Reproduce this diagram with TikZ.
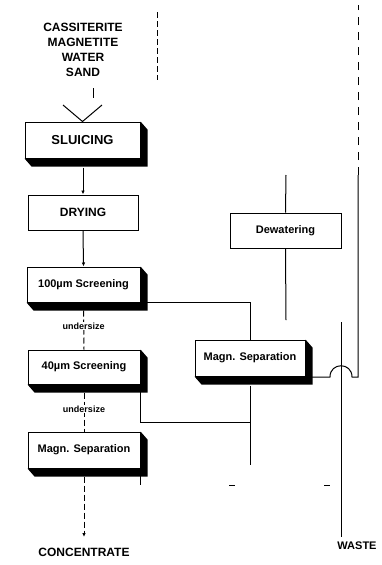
\documentclass[tikz,border=0pt]{standalone}
\usepackage{fontspec}
\setmainfont{Liberation Sans}
\usetikzlibrary{calc,arrows.meta}
\newcommand\myextrude[1]{\fill (#1.north east) -- ++(7,8) -- ($(#1.south east)+(7,8)$) -- ($(#1.south west)+(7,8)$) -- (#1.south west) -- (#1.south east) -- cycle;}
\begin{document}
\begin{tikzpicture}[x=1pt,y=-1pt,
  proc/.style={draw, line width=1pt, inner sep=0pt, fill=white, font=\bfseries\fontsize{11}{13}\selectfont},
  conn/.style={line width=1pt},
  dconn/.style={line width=1pt, dash pattern=on 6pt off 3pt},
  tip/.style={-{Latex[length=4pt,width=3.5pt]}},
  dotstart/.style={{Circle[length=3pt]}-},
  bigtxt/.style={font=\bfseries\fontsize{12}{15}\selectfont, align=center, inner sep=0pt},
  smalltxt/.style={font=\bfseries\fontsize{9}{10}\selectfont, fill=white, inner sep=1pt}]
\useasboundingbox (0,0) rectangle (382,565);

% feed
\node[bigtxt] (feed) at (83,49.5) {CASSITERITE\\MAGNETITE\\WATER\\SAND};
\coordinate (ftop) at (93,88);
\coordinate (fbot) at (93,98);
\draw[conn] (ftop) -- (fbot);

% process boxes
\node[proc, minimum width=115, minimum height=36, font=\bfseries\fontsize{13}{15}\selectfont] (sluice) at (82.5,140) {SLUICING};
\myextrude{sluice}
\node[proc, minimum width=110, minimum height=35, font=\bfseries\fontsize{12}{14}\selectfont] (dry) at (83,212.5) {DRYING};
\node[proc, minimum width=113, minimum height=35] (s100) at (83.5,284.5) {100µm Screening};
\myextrude{s100}
\node[proc, minimum width=112, minimum height=34] (s40) at (84,367) {40µm Screening};
\myextrude{s40}
\node[proc, minimum width=112, minimum height=36] (magL) at (84,450) {Magn. Separation};
\myextrude{magL}
\node[proc, minimum width=111, minimum height=35] (dew) at (285.5,230.5) {Dewatering};
\node[proc, minimum width=110, minimum height=36] (magR) at (250,358) {Magn. Separation};
\myextrude{magR}

% funnel into sluice
\coordinate (fl) at (63,105);
\coordinate (fr) at (102,105);
\draw[conn] (fl) -- (sluice.north) -- (fr);

% water inlet
\coordinate (wa) at (157,12);
\coordinate (wb) at (157,80);
\draw[dconn] (wa) -- (wb);

% left column
\draw[conn, tip] ($(sluice.south)+(0.5,9)$) -- (dry.north);
\draw[conn, dotstart, tip] (dry.south) -- (s100.north);
\draw[dconn] ($(s100.south)+(0,8)$) -- (s40.north) node[pos=0.4, smalltxt] {undersize};
\draw[dconn] ($(s40.south)+(0,8)$) -- (magL.north) node[pos=0.42, smalltxt] {undersize};
\coordinate (cend) at (84,537);
\draw[dconn, tip] ($(magL.south)+(0,8)$) -- (cend);
\node[bigtxt] (conc) at (84,552) {CONCENTRATE};

% oversize to right magn. separation
\coordinate (s100r) at (147,302);
\draw[conn] (s100r) -| (magR.north);
\coordinate (s40a) at (140,392);
\coordinate (jn) at (250,422);
\draw[conn] (s40a) |- (jn);
\coordinate (mrend) at (250,465);
\draw[conn] ($(magR.south)+(0,9)$) -- (mrend);

% left magn. separation side outlet
\coordinate (mla) at (140,476);
\coordinate (mlb) at (140,485);
\draw[conn] (mla) -- (mlb);
\coordinate (t1a) at (229,485);
\coordinate (t1b) at (235,485);
\coordinate (t2a) at (324,485);
\coordinate (t2b) at (330,485);
\draw[conn] (t1a) -- (t1b);
\draw[conn] (t2a) -- (t2b);

% dewatering
\coordinate (dtop) at (286,175);
\coordinate (dbot) at (286,320);
\draw[conn] (dtop) -- (dew.north);
\draw[conn] (dew.south) -- (dbot);

% waste
\coordinate (wtop) at (341,322);
\coordinate (wend) at (341,537);
\draw[conn] (wtop) -- (wend);
\node[bigtxt, font=\bfseries\fontsize{11}{13}\selectfont] (waste) at (357,546) {WASTE};

% recycle line from right magn. separation
\coordinate (mrout) at (312,377);
\coordinate (hopa) at (330,377);
\coordinate (hopb) at (352,377);
\coordinate (rturn) at (358,377);
\coordinate (rmid) at (358,175);
\coordinate (rtop) at (358,5);
\draw[conn] (mrout) -- (hopa) .. controls (330,362) and (352,362) .. (hopb) -- (rturn) -- (rmid);
\draw[conn, dash pattern=on 8pt off 7pt] (rmid) -- (rtop);
\end{tikzpicture}
\end{document}
